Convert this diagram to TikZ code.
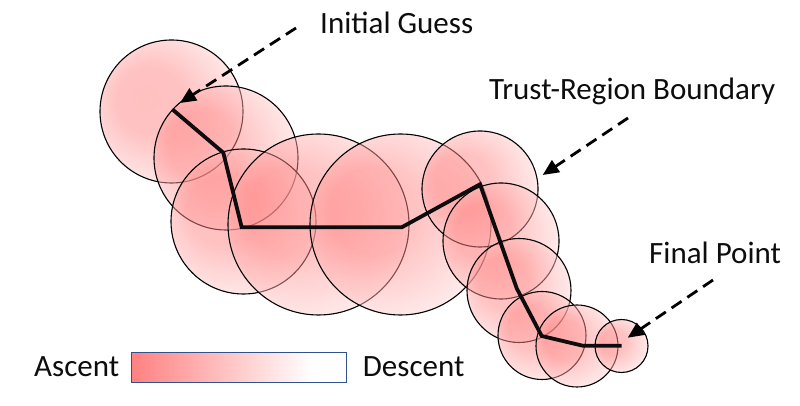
\documentclass[tikz,border=0pt]{standalone}
\usepackage{fontspec}
\setmainfont{Carlito}
\usetikzlibrary{arrows.meta}
\definecolor{pk}{RGB}{255,128,128}
\definecolor{ink}{RGB}{13,13,13}
\definecolor{barline}{RGB}{47,82,143}
\pgfdeclareradialshading{blob}{\pgfpoint{-10bp}{5bp}}{color(0bp)=(pk); color(12bp)=(pk!95); color(38bp)=(white); color(50bp)=(white)}
\pgfdeclarehorizontalshading{legendbar}{100bp}{color(0bp)=(pk); color(25bp)=(pk); color(67bp)=(white); color(100bp)=(white)}
\tikzset{
  region/.style={circle, inner sep=0pt, minimum size=#1, shading=blob, fill opacity=0.5, draw=black, draw opacity=1, line width=1.1pt},
  steppath/.style={draw=ink, line width=3.8pt, line join=miter},
  callout/.style={draw=black, line width=2.8pt, dash pattern=on 12pt off 7pt, -{Triangle[length=16pt,width=14pt]}},
  label/.style={inner sep=0pt, anchor=base west, text=ink, font=\fontsize{31}{36}\selectfont}
}
\begin{document}
\begin{tikzpicture}[x=1pt,y=1pt]
\useasboundingbox (0,0) rectangle (800,406);
% trust regions
\node[region=143pt] (c1) at (171.5,294.5) {};
\node[region=144pt] (c2) at (226,248) {};
\node[region=145pt] (c3) at (243.5,184.5) {};
\node[region=181pt] (c4) at (318.5,181.5) {};
\node[region=181pt] (c5) at (400.5,181.5) {};
\node[region=116pt] (c6) at (480,217) {};
\node[region=116pt] (c7) at (501,165) {};
\node[region=104pt] (c8) at (519,115.5) {};
\node[region=88pt] (c9) at (542,70.5) {};
\node[region=82pt] (c10) at (577,60) {};
\node[region=53pt] (c11) at (621.5,60) {};
% iterates
\coordinate (p1) at (172.3,296.7);
\coordinate (p2) at (223.3,253.3);
\coordinate (p3) at (241.7,178.7);
\coordinate (p4) at (401.7,178.7);
\coordinate (p5) at (480,221.7);
\coordinate (p6) at (516.7,117.7);
\coordinate (p7) at (541.7,70);
\coordinate (p8) at (582.7,60.3);
\coordinate (p9) at (621.7,60.3);
\draw[steppath] (p1) -- (p2) -- (p3) -- (p4) -- (p5) -- (p6) -- (p7) -- (p8) -- (p9);
% labels
\node[label] (lig) at (320,372.7) {Initial Guess};
\node[label] (ltr) at (489,306) {Trust-Region Boundary};
\node[label] (lfp) at (649,142.7) {Final Point};
\coordinate (aig) at (296,378);
\coordinate (tig) at (180,303);
\coordinate (atr) at (628,288);
\coordinate (ttr) at (542.7,231);
\coordinate (afp) at (713,126);
\coordinate (tfp) at (627.7,68.3);
\draw[callout] (aig) -- (tig);
\draw[callout] (atr) -- (ttr);
\draw[callout] (afp) -- (tfp);
% legend
\node[label] (asc) at (34,29.3) {Ascent};
\path[shading=legendbar, draw=barline, line width=1pt] (131,23.7) rectangle (346.7,53.7);
\node[label] (desc) at (362.7,29.3) {Descent};
\end{tikzpicture}
\end{document}
